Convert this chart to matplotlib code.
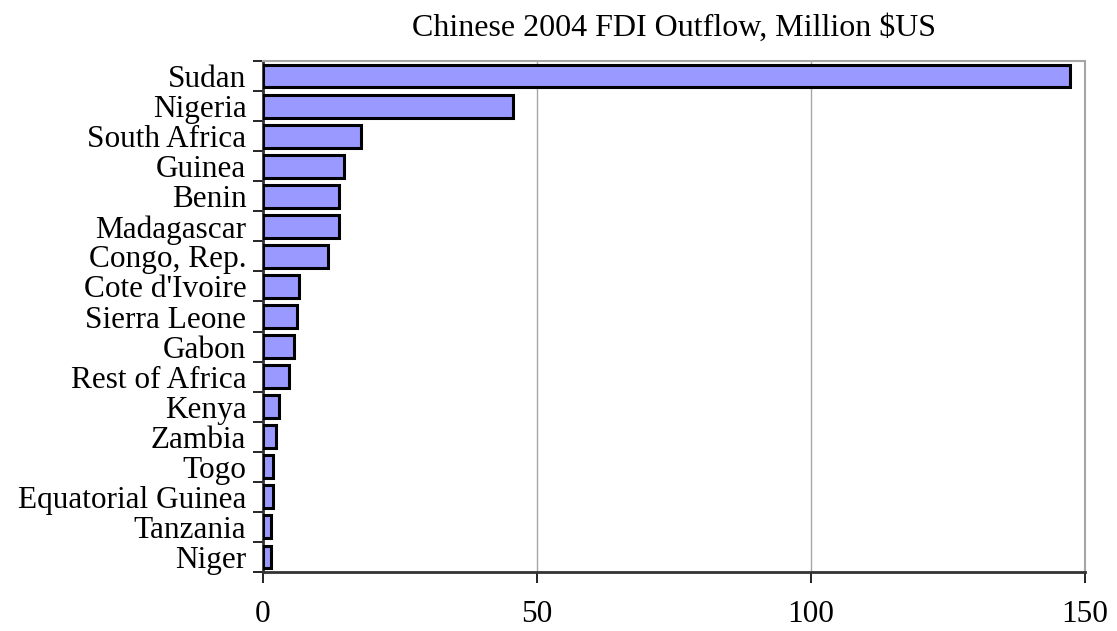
import numpy as np
import matplotlib
matplotlib.use('Agg')
from matplotlib import pyplot as plt

countries = ['Sudan', 'Nigeria', 'South Africa', 'Guinea', 'Benin', 'Madagascar',
             'Congo, Rep.', "Cote d'Ivoire", 'Sierra Leone', 'Gabon', 'Rest of Africa',
             'Kenya', 'Zambia', 'Togo', 'Equatorial Guinea', 'Tanzania', 'Niger']
fdi = [147.3, 45.7, 17.9, 14.7, 13.8, 13.8, 11.8, 6.6, 6.2, 5.7, 4.8,
       2.9, 2.4, 1.9, 1.9, 1.5, 1.5]
xticks = [0, 50, 100, 150]

plt.rcParams.update({'font.family': 'Liberation Serif'})

fig = plt.figure(figsize=(11.17, 6.31), dpi=100)
ax = fig.add_axes([0.2355, 0.0935, 0.9714 - 0.2355, 0.9033 - 0.0935])

pos = np.arange(len(countries))
ax.barh(pos, fdi, height=0.76, color='#9999ff', edgecolor='black', linewidth=2.2, zorder=3)

ax.set_xlim(0, 150)
ax.set_ylim(len(countries) - 0.5, -0.5)

# grid lines
ax.set_xticks(xticks)
ax.set_xticklabels([str(t) for t in xticks], fontsize=22.5)
ax.xaxis.grid(True, color='#a6a6a6', linewidth=1)
ax.tick_params(axis='x', direction='out', length=8, width=1.2, pad=12)

# y ticks between categories, labels at the centers
ax.set_yticks(pos)
ax.set_yticklabels(countries, fontsize=22.5)
ax.tick_params(axis='y', which='major', length=0, pad=12)
ax.set_yticks(np.arange(-0.5, len(countries)), minor=True)
ax.tick_params(axis='y', which='minor', direction='out', length=7, width=1.2)

for spine in ['top', 'right']:
    ax.spines[spine].set_color('#a6a6a6')
    ax.spines[spine].set_linewidth(1.5)
for spine in ['left', 'bottom']:
    ax.spines[spine].set_color('#333333')
    ax.spines[spine].set_linewidth(2)

fig.text(0.603, 0.955, 'Chinese 2004 FDI Outflow, Million $US', fontsize=23,
         ha='center', va='center')

plt.savefig('out.png', dpi=100)
